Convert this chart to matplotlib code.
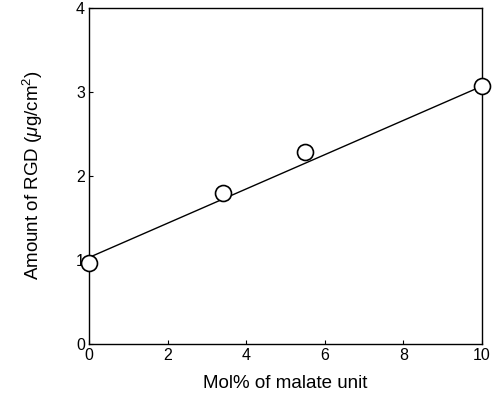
import matplotlib
matplotlib.use("Agg")
import matplotlib.pyplot as plt

# Data
mol_pct = [0.0, 3.4, 5.5, 10.0]
rgd_amount = [0.96, 1.80, 2.28, 3.07]
fit_x = [0.0, 10.0]
fit_y = [1.03, 3.07]
x_ticks = [0, 2, 4, 6, 8, 10]
y_ticks = [0, 1, 2, 3, 4]

plt.rcParams['font.family'] = ['Liberation Sans', 'DejaVu Sans']
plt.rcParams['mathtext.fontset'] = 'custom'
plt.rcParams['mathtext.rm'] = 'Liberation Sans'
plt.rcParams['mathtext.it'] = 'Liberation Sans:italic'

fig = plt.figure(figsize=(4.94, 3.98), dpi=100)
ax = fig.add_axes([89/494, 1-344/398, (482-89)/494, (344-8)/398])

ax.plot(fit_x, fit_y, color='black', lw=1.0, zorder=2)
ax.plot(mol_pct, rgd_amount, linestyle='none', marker='o', markersize=11.5,
        markerfacecolor='white', markeredgecolor='black', markeredgewidth=1.2,
        zorder=3, clip_on=False)

ax.set_xlim(0, 10)
ax.set_ylim(0, 4)
ax.set_xticks(x_ticks)
ax.set_yticks(y_ticks)
ax.tick_params(direction='in', length=3, width=0.8, labelsize=11.5, pad=3)
for s in ax.spines.values():
    s.set_linewidth(1.0)

ax.set_xlabel('Mol% of malate unit', fontsize=13.5)
ax.set_ylabel('Amount of RGD ($\\mu$g/cm$^2$)', fontsize=13.5)
ax.xaxis.set_label_coords(285/494, 1-383/398, transform=fig.transFigure)
ax.yaxis.set_label_coords(33/494, 1-175/398, transform=fig.transFigure)
ax.xaxis.label.set_va('center')
ax.yaxis.label.set_va('center')

fig.savefig('out.png', dpi=100)
